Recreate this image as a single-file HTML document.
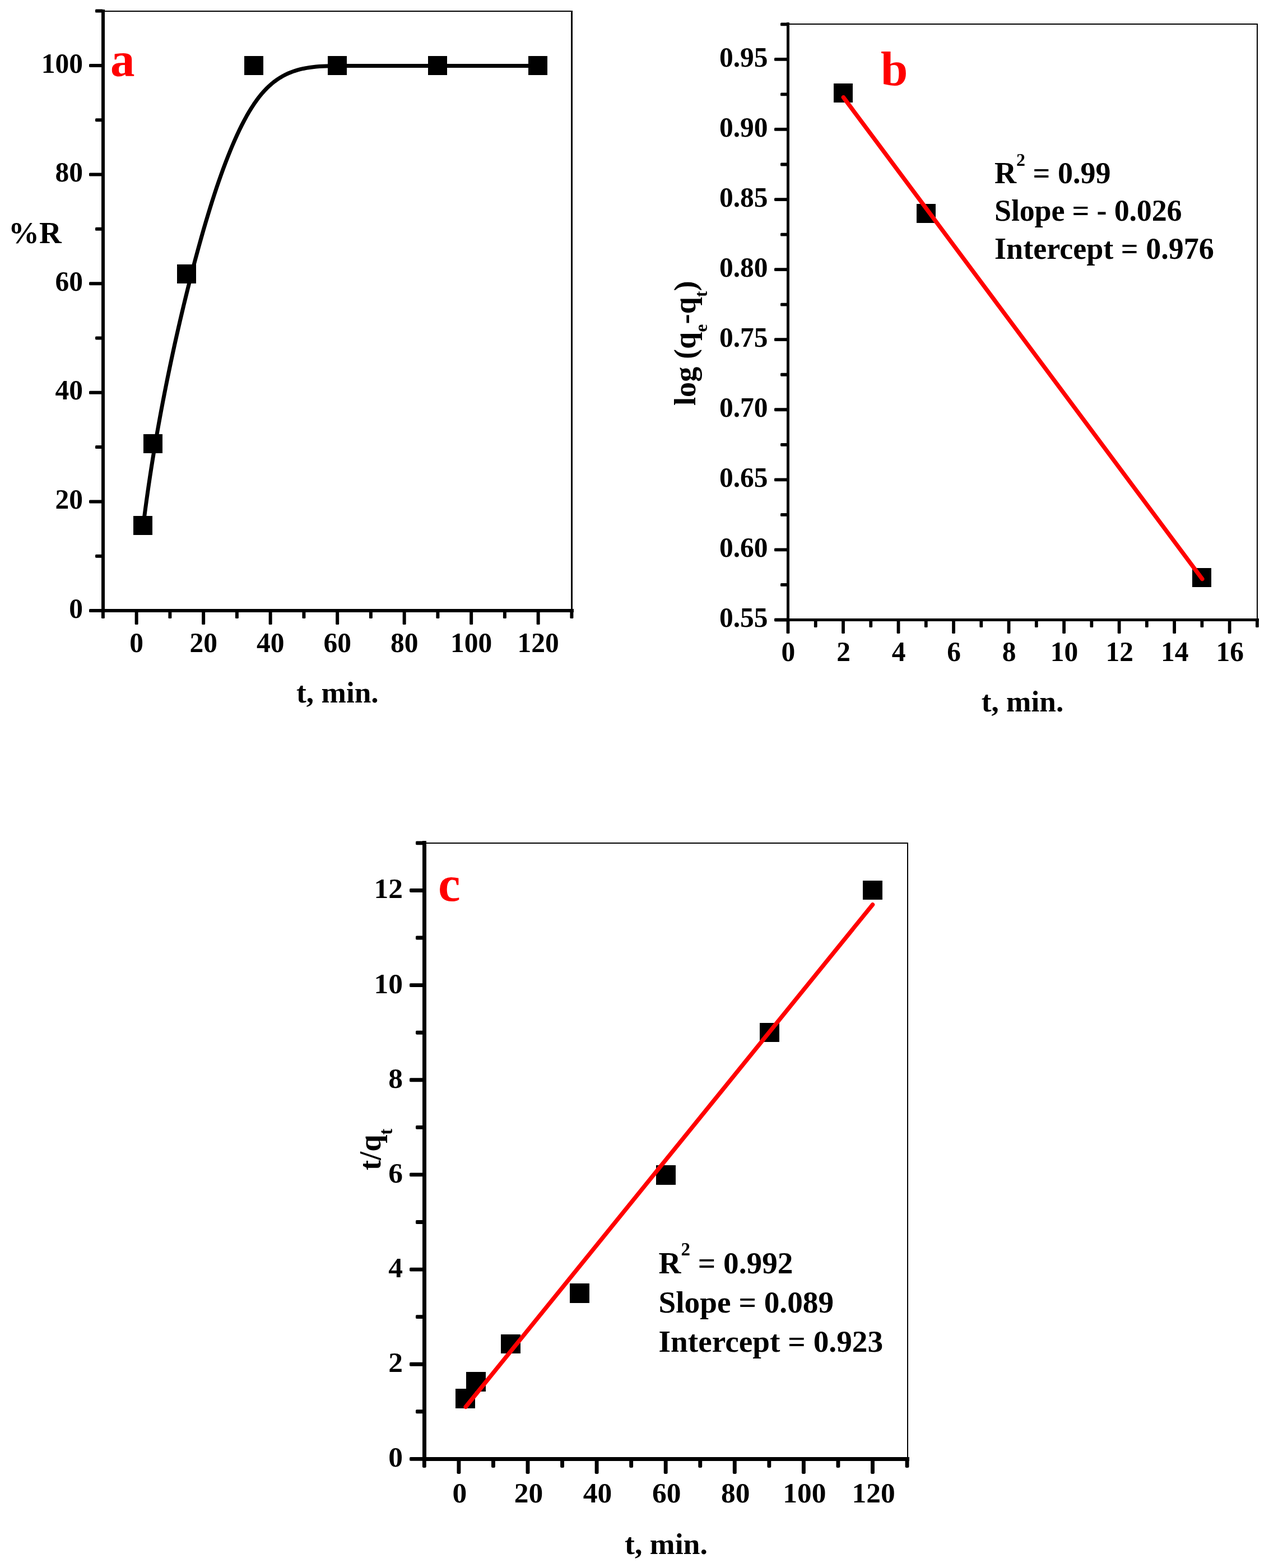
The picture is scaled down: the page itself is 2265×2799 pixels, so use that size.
<!DOCTYPE html>
<html lang="en">
<head>
<meta charset="utf-8">
<title>Adsorption kinetics: %R vs t, pseudo-first-order and pseudo-second-order plots</title>
<style>
html,body{margin:0;padding:0;background:#fff;}
body{width:2265px;height:2799px;}
svg{display:block;font-family:"Liberation Serif","DejaVu Serif",serif;font-weight:bold;fill:#000;}
.k{fill:#000;shape-rendering:crispEdges;}
.r{fill:#f00;}
</style>
</head>
<body>
<svg width="2265" height="2799" viewBox="0 0 2265 2799" role="img" aria-label="Three kinetics plots: (a) %R versus time, (b) log(qe-qt) versus time, (c) t/qt versus time">
<rect x="0" y="0" width="2265" height="2799" fill="#fff"/>

<g id="chart-a">
<rect x="184" y="19" width="838" height="2" class="k"/>
<rect x="1019" y="19" width="3" height="1071" class="k"/>
<rect x="181" y="16.6" width="6" height="1076.4" class="k"/>
<rect x="181" y="1087" width="842.5" height="6" class="k"/>
<g id="ticks-a">
<rect x="180.9" y="1090" width="6" height="14" rx="1.6" ry="1.6"/>
<rect x="240.65" y="1090" width="6" height="25" rx="1.6" ry="1.6"/>
<rect x="300.4" y="1090" width="6" height="14" rx="1.6" ry="1.6"/>
<rect x="360.15" y="1090" width="6" height="25" rx="1.6" ry="1.6"/>
<rect x="419.9" y="1090" width="6" height="14" rx="1.6" ry="1.6"/>
<rect x="479.65" y="1090" width="6" height="25" rx="1.6" ry="1.6"/>
<rect x="539.4" y="1090" width="6" height="14" rx="1.6" ry="1.6"/>
<rect x="599.15" y="1090" width="6" height="25" rx="1.6" ry="1.6"/>
<rect x="658.9" y="1090" width="6" height="14" rx="1.6" ry="1.6"/>
<rect x="718.65" y="1090" width="6" height="25" rx="1.6" ry="1.6"/>
<rect x="778.4" y="1090" width="6" height="14" rx="1.6" ry="1.6"/>
<rect x="838.15" y="1090" width="6" height="25" rx="1.6" ry="1.6"/>
<rect x="897.9" y="1090" width="6" height="14" rx="1.6" ry="1.6"/>
<rect x="957.65" y="1090" width="6" height="25" rx="1.6" ry="1.6"/>
<rect x="1017.4" y="1090" width="6" height="14" rx="1.6" ry="1.6"/>
<rect x="159" y="1087" width="25" height="6" rx="1.6" ry="1.6"/>
<rect x="170" y="989.69" width="14" height="6" rx="1.6" ry="1.6"/>
<rect x="159" y="892.38" width="25" height="6" rx="1.6" ry="1.6"/>
<rect x="170" y="795.07" width="14" height="6" rx="1.6" ry="1.6"/>
<rect x="159" y="697.76" width="25" height="6" rx="1.6" ry="1.6"/>
<rect x="170" y="600.45" width="14" height="6" rx="1.6" ry="1.6"/>
<rect x="159" y="503.14" width="25" height="6" rx="1.6" ry="1.6"/>
<rect x="170" y="405.83" width="14" height="6" rx="1.6" ry="1.6"/>
<rect x="159" y="308.52" width="25" height="6" rx="1.6" ry="1.6"/>
<rect x="170" y="211.21" width="14" height="6" rx="1.6" ry="1.6"/>
<rect x="159" y="113.9" width="25" height="6" rx="1.6" ry="1.6"/>
<rect x="170" y="16.59" width="14" height="6" rx="1.6" ry="1.6"/>
</g>
<g font-size="49.5" text-anchor="middle">
<text transform="translate(243.65 1164.2) scale(1 1.02)">0</text>
<text transform="translate(363.15 1164.2) scale(1 1.02)">20</text>
<text transform="translate(482.65 1164.2) scale(1 1.02)">40</text>
<text transform="translate(602.15 1164.2) scale(1 1.02)">60</text>
<text transform="translate(721.65 1164.2) scale(1 1.02)">80</text>
<text transform="translate(841.15 1164.2) scale(1 1.02)">100</text>
<text transform="translate(960.65 1164.2) scale(1 1.02)">120</text>
</g>
<g font-size="49.5" text-anchor="end">
<text transform="translate(148 1102.6) scale(1 1.02)">0</text>
<text transform="translate(148 907.98) scale(1 1.02)">20</text>
<text transform="translate(148 713.36) scale(1 1.02)">40</text>
<text transform="translate(148 518.74) scale(1 1.02)">60</text>
<text transform="translate(148 324.12) scale(1 1.02)">80</text>
<text transform="translate(148 129.5) scale(1 1.02)">100</text>
</g>
<path d="M255.6 938.2L257.43 923.54L259.34 908.86L261.33 894.15L263.39 879.42L265.53 864.68L267.73 849.92L270.01 835.15L272.36 820.37L274.77 805.6L277.25 790.82L279.79 776.06L282.4 761.31L285.07 746.57L287.79 731.85L290.58 717.16L293.42 702.5L296.32 687.87L299.27 673.28L302.27 658.73L305.32 644.22L308.42 629.76L311.57 615.36L314.76 601.02L317.99 586.73L321.27 572.52L324.59 558.37L327.95 544.31L331.35 530.31L334.79 516.41L338.25 502.59L341.76 488.86L345.29 475.24L348.86 461.73L352.46 448.34L356.1 435.09L359.76 421.98L363.47 409.03L367.2 396.25L370.97 383.64L374.77 371.22L378.6 359L382.47 346.99L386.37 335.2L390.3 323.65L394.27 312.33L398.27 301.27L402.3 290.46L406.37 279.94L410.47 269.7L414.6 259.75L418.77 250.11L422.97 240.79L427.2 231.79L431.46 223.13L435.76 214.82L440.09 206.87L444.46 199.29L448.86 192.1L453.29 185.29L457.75 178.89L462.25 172.89L466.79 167.3L471.36 162.09L475.98 157.25L480.64 152.77L485.36 148.64L490.13 144.83L494.95 141.35L499.83 138.16L504.78 135.27L509.79 132.65L514.88 130.29L520.03 128.18L525.26 126.3L530.57 124.65L535.97 123.2L541.45 121.94L547.02 120.87L552.68 119.96L558.44 119.2L564.3 118.57L570.27 118.08L576.33 117.69L582.51 117.4L588.8 117.19L595.21 117.05L601.74 116.96L608.39 116.92L615.16 116.9L622.07 116.9L629.11 116.9L636.29 116.9L643.65 116.9L651.18 116.9L658.9 116.9L666.84 116.9L675 116.9L683.4 116.9L692.06 116.9L701 116.9L710.22 116.9L719.74 116.9L729.58 116.9L739.75 116.9L750.28 116.9L761.17 116.9L772.44 116.9L784.11 116.9L796.19 116.9L808.69 116.9L821.64 116.9L835.05 116.9L848.93 116.9L863.3 116.9L878.17 116.9L893.56 116.9L909.49 116.9L925.97 116.9L943.02 116.9L960.65 116.9" transform="translate(0 0.5)" fill="none" stroke="#000" stroke-width="7" stroke-linejoin="round" stroke-linecap="round"/>
<rect x="238" y="921" width="34" height="34" class="k"/>
<rect x="256" y="775" width="34" height="34" class="k"/>
<rect x="316" y="472" width="34" height="34" class="k"/>
<rect x="436" y="100" width="34" height="34" class="k"/>
<rect x="585" y="100" width="34" height="34" class="k"/>
<rect x="764" y="100" width="34" height="34" class="k"/>
<rect x="943" y="100" width="34" height="34" class="k"/>
<text x="197" y="136" font-size="87" class="r">a</text>
<text x="15" y="434" font-size="55">%R</text>
<text x="602.4" y="1253.6" font-size="53.3" text-anchor="middle">t, min.</text>
</g>
<g id="chart-b">
<rect x="1406.5" y="42" width="838.5" height="2" class="k"/>
<rect x="2243" y="42" width="2" height="1064.5" class="k"/>
<rect x="1404" y="40.4" width="5" height="1068.6" class="k"/>
<rect x="1404" y="1104" width="842.9" height="5" class="k"/>
<g id="ticks-b">
<rect x="1403.6" y="1106.5" width="5.8" height="24.5" rx="1.6" ry="1.6"/>
<rect x="1452.86" y="1106.5" width="5.8" height="13.5" rx="1.6" ry="1.6"/>
<rect x="1502.12" y="1106.5" width="5.8" height="24.5" rx="1.6" ry="1.6"/>
<rect x="1551.38" y="1106.5" width="5.8" height="13.5" rx="1.6" ry="1.6"/>
<rect x="1600.64" y="1106.5" width="5.8" height="24.5" rx="1.6" ry="1.6"/>
<rect x="1649.9" y="1106.5" width="5.8" height="13.5" rx="1.6" ry="1.6"/>
<rect x="1699.16" y="1106.5" width="5.8" height="24.5" rx="1.6" ry="1.6"/>
<rect x="1748.42" y="1106.5" width="5.8" height="13.5" rx="1.6" ry="1.6"/>
<rect x="1797.68" y="1106.5" width="5.8" height="24.5" rx="1.6" ry="1.6"/>
<rect x="1846.94" y="1106.5" width="5.8" height="13.5" rx="1.6" ry="1.6"/>
<rect x="1896.2" y="1106.5" width="5.8" height="24.5" rx="1.6" ry="1.6"/>
<rect x="1945.46" y="1106.5" width="5.8" height="13.5" rx="1.6" ry="1.6"/>
<rect x="1994.72" y="1106.5" width="5.8" height="24.5" rx="1.6" ry="1.6"/>
<rect x="2043.98" y="1106.5" width="5.8" height="13.5" rx="1.6" ry="1.6"/>
<rect x="2093.24" y="1106.5" width="5.8" height="24.5" rx="1.6" ry="1.6"/>
<rect x="2142.5" y="1106.5" width="5.8" height="13.5" rx="1.6" ry="1.6"/>
<rect x="2191.76" y="1106.5" width="5.8" height="24.5" rx="1.6" ry="1.6"/>
<rect x="2241.02" y="1106.5" width="5.8" height="13.5" rx="1.6" ry="1.6"/>
<rect x="1382" y="1103.6" width="24.5" height="5.8" rx="1.6" ry="1.6"/>
<rect x="1393" y="1041.06" width="13.5" height="5.8" rx="1.6" ry="1.6"/>
<rect x="1382" y="978.52" width="24.5" height="5.8" rx="1.6" ry="1.6"/>
<rect x="1393" y="915.99" width="13.5" height="5.8" rx="1.6" ry="1.6"/>
<rect x="1382" y="853.45" width="24.5" height="5.8" rx="1.6" ry="1.6"/>
<rect x="1393" y="790.91" width="13.5" height="5.8" rx="1.6" ry="1.6"/>
<rect x="1382" y="728.37" width="24.5" height="5.8" rx="1.6" ry="1.6"/>
<rect x="1393" y="665.84" width="13.5" height="5.8" rx="1.6" ry="1.6"/>
<rect x="1382" y="603.3" width="24.5" height="5.8" rx="1.6" ry="1.6"/>
<rect x="1393" y="540.76" width="13.5" height="5.8" rx="1.6" ry="1.6"/>
<rect x="1382" y="478.23" width="24.5" height="5.8" rx="1.6" ry="1.6"/>
<rect x="1393" y="415.69" width="13.5" height="5.8" rx="1.6" ry="1.6"/>
<rect x="1382" y="353.15" width="24.5" height="5.8" rx="1.6" ry="1.6"/>
<rect x="1393" y="290.61" width="13.5" height="5.8" rx="1.6" ry="1.6"/>
<rect x="1382" y="228.07" width="24.5" height="5.8" rx="1.6" ry="1.6"/>
<rect x="1393" y="165.54" width="13.5" height="5.8" rx="1.6" ry="1.6"/>
<rect x="1382" y="103" width="24.5" height="5.8" rx="1.6" ry="1.6"/>
<rect x="1393" y="40.46" width="13.5" height="5.8" rx="1.6" ry="1.6"/>
</g>
<g font-size="49.5" text-anchor="middle">
<text transform="translate(1407 1180) scale(1 1.02)">0</text>
<text transform="translate(1505.52 1180) scale(1 1.02)">2</text>
<text transform="translate(1604.04 1180) scale(1 1.02)">4</text>
<text transform="translate(1702.56 1180) scale(1 1.02)">6</text>
<text transform="translate(1801.08 1180) scale(1 1.02)">8</text>
<text transform="translate(1899.6 1180) scale(1 1.02)">10</text>
<text transform="translate(1998.12 1180) scale(1 1.02)">12</text>
<text transform="translate(2096.64 1180) scale(1 1.02)">14</text>
<text transform="translate(2195.16 1180) scale(1 1.02)">16</text>
</g>
<g font-size="49.5" text-anchor="end">
<text transform="translate(1370.5 1119.1) scale(1 1.02)">0.55</text>
<text transform="translate(1370.5 994.02) scale(1 1.02)">0.60</text>
<text transform="translate(1370.5 868.95) scale(1 1.02)">0.65</text>
<text transform="translate(1370.5 743.87) scale(1 1.02)">0.70</text>
<text transform="translate(1370.5 618.8) scale(1 1.02)">0.75</text>
<text transform="translate(1370.5 493.73) scale(1 1.02)">0.80</text>
<text transform="translate(1370.5 368.65) scale(1 1.02)">0.85</text>
<text transform="translate(1370.5 243.57) scale(1 1.02)">0.90</text>
<text transform="translate(1370.5 118.5) scale(1 1.02)">0.95</text>
</g>
<rect x="1488" y="149" width="34" height="34" class="k"/>
<rect x="1636" y="364" width="34" height="34" class="k"/>
<rect x="2128" y="1014" width="34" height="34" class="k"/>
<line x1="1505.42" y1="173.74" x2="2145.8" y2="1033.51" stroke="#f00" stroke-width="7.5" stroke-linecap="round"/>
<text x="1572" y="152" font-size="87" class="r">b</text>
<g font-size="54.1">
<text x="1775" y="327">R<tspan font-size="32" dy="-31">2</tspan><tspan dy="31"> = 0.99</tspan></text>
<text x="1775" y="394.4" letter-spacing="-0.2">Slope = - 0.026</text>
<text x="1775" y="461.8">Intercept = 0.976</text>
</g>
<text transform="translate(1241.2 724) rotate(-90)" font-size="54.3">log (q<tspan font-size="32" dy="21">e</tspan><tspan dy="-21">-q</tspan><tspan font-size="32" dy="21">t</tspan><tspan dy="-21">)</tspan></text>
<text x="1825" y="1269.6" font-size="53.3" text-anchor="middle">t, min.</text>
</g>
<g id="chart-c">
<rect x="757.5" y="1503.6" width="863.7" height="2.4" class="k"/>
<rect x="1618.8" y="1503.6" width="2.4" height="1100.8" class="k"/>
<rect x="754" y="1501.35" width="7" height="1106.55" class="k"/>
<rect x="754" y="2600.9" width="869.45" height="7" class="k"/>
<g id="ticks-c">
<rect x="753.9" y="2604.4" width="6.9" height="15.5" rx="1.8" ry="1.8"/>
<rect x="815.45" y="2604.4" width="6.9" height="26.5" rx="1.8" ry="1.8"/>
<rect x="877" y="2604.4" width="6.9" height="15.5" rx="1.8" ry="1.8"/>
<rect x="938.55" y="2604.4" width="6.9" height="26.5" rx="1.8" ry="1.8"/>
<rect x="1000.1" y="2604.4" width="6.9" height="15.5" rx="1.8" ry="1.8"/>
<rect x="1061.65" y="2604.4" width="6.9" height="26.5" rx="1.8" ry="1.8"/>
<rect x="1123.2" y="2604.4" width="6.9" height="15.5" rx="1.8" ry="1.8"/>
<rect x="1184.75" y="2604.4" width="6.9" height="26.5" rx="1.8" ry="1.8"/>
<rect x="1246.3" y="2604.4" width="6.9" height="15.5" rx="1.8" ry="1.8"/>
<rect x="1307.85" y="2604.4" width="6.9" height="26.5" rx="1.8" ry="1.8"/>
<rect x="1369.4" y="2604.4" width="6.9" height="15.5" rx="1.8" ry="1.8"/>
<rect x="1430.95" y="2604.4" width="6.9" height="26.5" rx="1.8" ry="1.8"/>
<rect x="1492.5" y="2604.4" width="6.9" height="15.5" rx="1.8" ry="1.8"/>
<rect x="1554.05" y="2604.4" width="6.9" height="26.5" rx="1.8" ry="1.8"/>
<rect x="1615.6" y="2604.4" width="6.9" height="15.5" rx="1.8" ry="1.8"/>
<rect x="731" y="2600.95" width="26.5" height="6.9" rx="1.8" ry="1.8"/>
<rect x="742" y="2516.37" width="15.5" height="6.9" rx="1.8" ry="1.8"/>
<rect x="731" y="2431.79" width="26.5" height="6.9" rx="1.8" ry="1.8"/>
<rect x="742" y="2347.21" width="15.5" height="6.9" rx="1.8" ry="1.8"/>
<rect x="731" y="2262.63" width="26.5" height="6.9" rx="1.8" ry="1.8"/>
<rect x="742" y="2178.05" width="15.5" height="6.9" rx="1.8" ry="1.8"/>
<rect x="731" y="2093.47" width="26.5" height="6.9" rx="1.8" ry="1.8"/>
<rect x="742" y="2008.89" width="15.5" height="6.9" rx="1.8" ry="1.8"/>
<rect x="731" y="1924.31" width="26.5" height="6.9" rx="1.8" ry="1.8"/>
<rect x="742" y="1839.73" width="15.5" height="6.9" rx="1.8" ry="1.8"/>
<rect x="731" y="1755.15" width="26.5" height="6.9" rx="1.8" ry="1.8"/>
<rect x="742" y="1670.57" width="15.5" height="6.9" rx="1.8" ry="1.8"/>
<rect x="731" y="1585.99" width="26.5" height="6.9" rx="1.8" ry="1.8"/>
<rect x="742" y="1501.41" width="15.5" height="6.9" rx="1.8" ry="1.8"/>
</g>
<g font-size="51.5" text-anchor="middle">
<text transform="translate(820.4 2681.9) scale(1 1)">0</text>
<text transform="translate(943.5 2681.9) scale(1 1)">20</text>
<text transform="translate(1066.6 2681.9) scale(1 1)">40</text>
<text transform="translate(1189.7 2681.9) scale(1 1)">60</text>
<text transform="translate(1312.8 2681.9) scale(1 1)">80</text>
<text transform="translate(1435.9 2681.9) scale(1 1)">100</text>
<text transform="translate(1559 2681.9) scale(1 1)">120</text>
</g>
<g font-size="51.5" text-anchor="end">
<text transform="translate(719 2618.4) scale(1 1)">0</text>
<text transform="translate(719 2449.24) scale(1 1)">2</text>
<text transform="translate(719 2280.08) scale(1 1)">4</text>
<text transform="translate(719 2110.92) scale(1 1)">6</text>
<text transform="translate(719 1941.76) scale(1 1)">8</text>
<text transform="translate(719 1772.6) scale(1 1)">10</text>
<text transform="translate(719 1603.44) scale(1 1)">12</text>
</g>
<rect x="813" y="2479" width="35" height="35" class="k"/>
<rect x="832" y="2449" width="35" height="35" class="k"/>
<rect x="894" y="2382" width="35" height="34" class="k"/>
<rect x="1017" y="2291" width="35" height="35" class="k"/>
<rect x="1171" y="2080" width="35" height="35" class="k"/>
<rect x="1356" y="1826" width="35" height="34" class="k"/>
<rect x="1540" y="1572" width="35" height="34" class="k"/>
<line x1="831.21" y1="2511.36" x2="1557.5" y2="1614.81" stroke="#f00" stroke-width="7.5" stroke-linecap="round"/>
<text x="782" y="1608" font-size="89" class="r">c</text>
<g font-size="55.3">
<text x="1175.5" y="2273.3">R<tspan font-size="33" dy="-32">2</tspan><tspan dy="32"> = 0.992</tspan></text>
<text x="1175.5" y="2343.3">Slope = 0.089</text>
<text x="1175.5" y="2413.2">Intercept = 0.923</text>
</g>
<text transform="translate(678.9 2089) rotate(-90)" font-size="54.3">t/q<tspan font-size="33" dy="21">t</tspan></text>
<text x="1189" y="2773.9" font-size="53.8" text-anchor="middle">t, min.</text>
</g>
</svg>
</body>
</html>
